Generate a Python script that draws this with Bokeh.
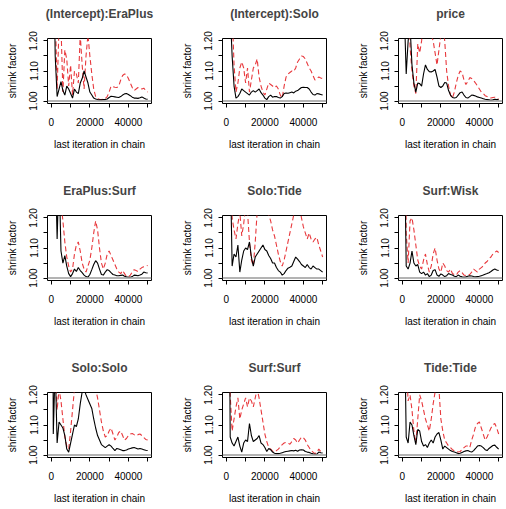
from bokeh.plotting import figure
from bokeh.layouts import column, row
from bokeh.models import Range1d, FixedTicker, Span
from bokeh.embed import file_html
from bokeh.resources import INLINE

# Last iteration of each bin (50 bins of 999 iterations, then the chain end)
last_iter = list(range(51, 50000, 999)) + [50000]

titles = [
    "(Intercept):EraPlus", "(Intercept):Solo", "price",
    "EraPlus:Surf", "Solo:Tide", "Surf:Wisk",
    "Solo:Solo", "Surf:Surf", "Tide:Tide",
]

# Median shrink factor per parameter
median_intercept_eraplus = [3.0, 1.6, 1.15, 1.015, 1.04, 1.065, 1.035, 1.02, 1.05, 1.04, 1.025, 1.01, 1.04, 1.03, 1.025, 1.06, 1.075, 1.10, 1.08, 1.06, 1.03, 1.02, 1.01, 1.007, 1.005, 1.004, 1.004, 1.005, 1.005, 1.007, 1.012, 1.016, 1.015, 1.014, 1.013, 1.012, 1.015, 1.02, 1.024, 1.025, 1.022, 1.018, 1.013, 1.01, 1.01, 1.009, 1.011, 1.014, 1.01, 1.007, 1.006]
median_intercept_solo = [3.0, 1.5, 1.3, 1.15, 1.05, 1.01, 1.015, 1.025, 1.04, 1.035, 1.03, 1.025, 1.02, 1.03, 1.035, 1.03, 1.035, 1.04, 1.028, 1.02, 1.01, 1.005, 1.015, 1.02, 1.013, 1.015, 1.015, 1.012, 1.01, 1.015, 1.025, 1.027, 1.026, 1.028, 1.03, 1.027, 1.033, 1.035, 1.04, 1.045, 1.046, 1.045, 1.045, 1.04, 1.03, 1.022, 1.02, 1.025, 1.024, 1.022, 1.02]
median_price = [4.0, 1.3, 1.09, 1.2, 1.25, 1.12, 1.06, 1.03, 1.06, 1.058, 1.05, 1.09, 1.12, 1.105, 1.098, 1.097, 1.1, 1.105, 1.08, 1.05, 1.045, 1.05, 1.062, 1.06, 1.035, 1.02, 1.012, 1.01, 1.012, 1.02, 1.028, 1.03, 1.02, 1.012, 1.01, 1.015, 1.02, 1.019, 1.017, 1.014, 1.012, 1.01, 1.008, 1.006, 1.005, 1.004, 1.003, 1.004, 1.006, 1.005, 1.005]
median_eraplus_surf = [5.0, 2.0, 1.4, 1.13, 1.35, 1.09, 1.05, 1.075, 1.04, 1.015, 1.005, 1.015, 1.03, 1.022, 1.035, 1.025, 1.018, 1.01, 1.005, 1.003, 1.012, 1.028, 1.045, 1.058, 1.05, 1.03, 1.012, 1.01, 1.02, 1.028, 1.025, 1.018, 1.012, 1.01, 1.008, 1.008, 1.009, 1.01, 1.006, 1.004, 1.003, 1.003, 1.005, 1.01, 1.009, 1.008, 1.01, 1.013, 1.02, 1.018, 1.017]
median_solo_tide = [5.0, 2.0, 1.4, 1.04, 1.08, 1.07, 1.11, 1.02, 1.06, 1.09, 1.10, 1.095, 1.12, 1.07, 1.04, 1.07, 1.08, 1.09, 1.10, 1.11, 1.095, 1.09, 1.075, 1.065, 1.05, 1.05, 1.035, 1.025, 1.02, 1.01, 1.015, 1.025, 1.033, 1.036, 1.04, 1.055, 1.07, 1.063, 1.055, 1.045, 1.04, 1.035, 1.045, 1.035, 1.03, 1.04, 1.035, 1.03, 1.03, 1.025, 1.02]
median_surf_wisk = [5.0, 1.5, 1.04, 1.03, 1.05, 1.09, 1.05, 1.04, 1.045, 1.02, 1.015, 1.02, 1.01, 1.015, 1.005, 1.01, 1.025, 1.028, 1.01, 1.006, 1.014, 1.01, 1.005, 1.008, 1.015, 1.012, 1.01, 1.006, 1.005, 1.01, 1.006, 1.004, 1.003, 1.004, 1.006, 1.008, 1.007, 1.005, 1.004, 1.005, 1.006, 1.008, 1.01, 1.013, 1.015, 1.018, 1.022, 1.027, 1.03, 1.027, 1.025]
median_solo_solo = [3.0, 1.07, 1.3, 1.04, 1.11, 1.10, 1.09, 1.065, 1.02, 1.01, 1.04, 1.07, 1.10, 1.095, 1.12, 1.17, 1.21, 1.22, 1.2, 1.185, 1.17, 1.155, 1.12, 1.09, 1.065, 1.05, 1.035, 1.03, 1.025, 1.03, 1.035, 1.03, 1.022, 1.015, 1.022, 1.02, 1.018, 1.015, 1.015, 1.017, 1.02, 1.022, 1.024, 1.025, 1.023, 1.02, 1.022, 1.02, 1.018, 1.016, 1.015]
median_surf_surf = [5.0, 2.0, 1.06, 1.04, 1.03, 1.045, 1.06, 1.03, 1.01, 1.04, 1.05, 1.045, 1.105, 1.065, 1.045, 1.05, 1.055, 1.065, 1.04, 1.035, 1.025, 1.012, 1.022, 1.018, 1.01, 1.006, 1.005, 1.005, 1.006, 1.008, 1.01, 1.012, 1.013, 1.014, 1.015, 1.014, 1.016, 1.013, 1.017, 1.018, 1.017, 1.012, 1.01, 1.009, 1.006, 1.004, 1.003, 1.003, 1.01, 1.008, 1.007]
median_tide_tide = [4.0, 1.5, 1.06, 1.04, 1.11, 1.10, 1.065, 1.035, 1.085, 1.08, 1.045, 1.03, 1.035, 1.025, 1.04, 1.05, 1.04, 1.06, 1.07, 1.075, 1.05, 1.02, 1.03, 1.025, 1.02, 1.015, 1.012, 1.01, 1.008, 1.005, 1.006, 1.009, 1.012, 1.014, 1.015, 1.012, 1.01, 1.015, 1.022, 1.03, 1.032, 1.03, 1.025, 1.018, 1.015, 1.022, 1.027, 1.032, 1.033, 1.026, 1.02]

# 97.5% upper limit of the shrink factor per parameter
upper_intercept_eraplus = [5.0, 2.5, 1.3, 1.04, 1.25, 1.25, 1.03, 1.17, 1.14, 1.05, 1.12, 1.02, 1.1, 1.09, 1.06, 1.22, 1.12, 1.04, 1.15, 1.22, 1.15, 1.09, 1.04, 1.015, 1.008, 1.006, 1.005, 1.006, 1.008, 1.015, 1.03, 1.05, 1.048, 1.046, 1.045, 1.05, 1.07, 1.085, 1.09, 1.088, 1.075, 1.06, 1.045, 1.035, 1.04, 1.045, 1.044, 1.04, 1.043, 1.035, 1.03]
upper_intercept_solo = [6.0, 3.0, 1.6, 1.3, 1.12, 1.03, 1.06, 1.11, 1.13, 1.11, 1.06, 1.11, 1.03, 1.07, 1.11, 1.12, 1.14, 1.08, 1.05, 1.03, 1.02, 1.04, 1.06, 1.055, 1.05, 1.045, 1.05, 1.04, 1.02, 1.01, 1.05, 1.08, 1.09, 1.095, 1.1, 1.098, 1.11, 1.13, 1.14, 1.15, 1.148, 1.14, 1.125, 1.11, 1.1, 1.085, 1.07, 1.075, 1.08, 1.077, 1.075]
upper_price = [8.0, 3.0, 1.8, 1.4, 1.18, 1.1, 1.05, 1.025, 1.19, 1.16, 1.2, 1.3, 1.35, 1.3, 1.25, 1.22, 1.2, 1.16, 1.12, 1.17, 1.22, 1.25, 1.2, 1.1, 1.05, 1.02, 1.01, 1.03, 1.06, 1.085, 1.1, 1.095, 1.07, 1.055, 1.065, 1.078, 1.075, 1.068, 1.06, 1.05, 1.04, 1.03, 1.025, 1.018, 1.015, 1.012, 1.01, 1.012, 1.013, 1.008, 1.007]
upper_eraplus_surf = [9.0, 4.0, 2.0, 1.6, 1.4, 1.25, 1.19, 1.12, 1.07, 1.04, 1.02, 1.03, 1.08, 1.11, 1.12, 1.09, 1.05, 1.03, 1.02, 1.04, 1.06, 1.1, 1.15, 1.19, 1.16, 1.1, 1.05, 1.03, 1.05, 1.08, 1.09, 1.075, 1.06, 1.045, 1.03, 1.02, 1.015, 1.025, 1.015, 1.005, 1.004, 1.01, 1.02, 1.028, 1.025, 1.022, 1.03, 1.035, 1.038, 1.04, 1.042]
upper_solo_tide = [9.0, 4.0, 1.8, 1.2, 1.16, 1.13, 1.18, 1.22, 1.14, 1.18, 1.24, 1.22, 1.12, 1.06, 1.04, 1.12, 1.22, 1.3, 1.33, 1.3, 1.27, 1.24, 1.21, 1.19, 1.16, 1.14, 1.11, 1.08, 1.055, 1.04, 1.06, 1.09, 1.12, 1.15, 1.18, 1.21, 1.24, 1.25, 1.24, 1.2, 1.17, 1.15, 1.13, 1.15, 1.13, 1.12, 1.13, 1.135, 1.11, 1.09, 1.07]
upper_surf_wisk = [9.0, 2.0, 1.15, 1.05, 1.19, 1.2, 1.16, 1.11, 1.06, 1.04, 1.03, 1.06, 1.08, 1.045, 1.02, 1.04, 1.08, 1.1, 1.06, 1.03, 1.02, 1.05, 1.04, 1.025, 1.02, 1.03, 1.015, 1.012, 1.01, 1.02, 1.025, 1.018, 1.01, 1.008, 1.008, 1.012, 1.02, 1.03, 1.025, 1.02, 1.03, 1.035, 1.04, 1.05, 1.055, 1.065, 1.07, 1.08, 1.085, 1.09, 1.085]
upper_solo_solo = [8.0, 2.0, 1.3, 1.15, 1.22, 1.18, 1.12, 1.06, 1.03, 1.02, 1.08, 1.15, 1.22, 1.3, 1.35, 1.4, 1.45, 1.45, 1.42, 1.38, 1.33, 1.28, 1.25, 1.22, 1.19, 1.15, 1.11, 1.08, 1.06, 1.065, 1.08, 1.09, 1.07, 1.05, 1.06, 1.075, 1.08, 1.065, 1.05, 1.055, 1.065, 1.07, 1.072, 1.068, 1.065, 1.068, 1.07, 1.065, 1.058, 1.052, 1.05]
upper_surf_surf = [9.0, 2.5, 1.2, 1.08, 1.12, 1.16, 1.19, 1.12, 1.15, 1.17, 1.19, 1.16, 1.19, 1.18, 1.16, 1.19, 1.22, 1.19, 1.15, 1.11, 1.07, 1.045, 1.025, 1.02, 1.013, 1.01, 1.015, 1.02, 1.028, 1.035, 1.04, 1.042, 1.04, 1.036, 1.045, 1.055, 1.05, 1.04, 1.05, 1.06, 1.058, 1.05, 1.035, 1.025, 1.015, 1.01, 1.005, 1.008, 1.02, 1.012, 1.008]
upper_tide_tide = [9.0, 2.5, 1.3, 1.18, 1.2, 1.15, 1.08, 1.04, 1.12, 1.2, 1.18, 1.15, 1.12, 1.1, 1.08, 1.12, 1.17, 1.21, 1.25, 1.22, 1.12, 1.08, 1.05, 1.04, 1.03, 1.025, 1.018, 1.014, 1.012, 1.01, 1.012, 1.018, 1.025, 1.03, 1.03, 1.025, 1.05, 1.07, 1.095, 1.105, 1.11, 1.09, 1.07, 1.05, 1.06, 1.075, 1.09, 1.1, 1.105, 1.09, 1.07]

medians = [
    median_intercept_eraplus, median_intercept_solo, median_price,
    median_eraplus_surf, median_solo_tide, median_surf_wisk,
    median_solo_solo, median_surf_surf, median_tide_tide,
]
uppers = [
    upper_intercept_eraplus, upper_intercept_solo, upper_price,
    upper_eraplus_surf, upper_solo_tide, upper_surf_wisk,
    upper_solo_solo, upper_surf_surf, upper_tide_tide,
]

x_ticks = [0, 10000, 20000, 30000, 40000, 50000]
x_tick_labels = ["0", "", "20000", "", "40000", ""]
y_ticks = [1.0, 1.05, 1.1, 1.15, 1.2]
y_tick_labels = ["1.00", "", "1.10", "", "1.20"]

FONT = "Liberation Sans"
col_widths = [175, 175, 156]
row_heights = [177, 177, 155]
left_borders = [47, 47, 48]
FRAME_W, FRAME_H, TOP = 104, 66, 37

# x limits padded 4% beyond the data, y limits padded 4% beyond 1.0-1.2
x_lo, x_hi = min(last_iter), max(last_iter)
x_pad = 0.04 * (x_hi - x_lo)
y_lo, y_hi = 1.0, 1.2
y_pad = 0.04 * (y_hi - y_lo)


def panel(i):
    r, c = divmod(i, 3)
    w, h = col_widths[c], row_heights[r]
    lb = left_borders[c]
    p = figure(
        width=w, height=h, output_backend="svg", toolbar_location=None,
        x_range=Range1d(x_lo - x_pad, x_hi + x_pad),
        y_range=Range1d(y_lo - y_pad, y_hi + y_pad),
        min_border_left=lb, min_border_right=w - lb - FRAME_W,
        min_border_top=TOP, min_border_bottom=h - TOP - FRAME_H,
        # trailing blank line lifts the title well clear of the plot box
        title=titles[i] + "\n ",
    )
    p.title.text_font = FONT
    p.title.text_font_size = "12px"
    p.title.text_font_style = "bold"
    p.title.align = "center"
    p.title.standoff = 8
    p.title.text_line_height = 1.0
    p.grid.visible = False
    p.background_fill_color = "white"
    p.border_fill_color = "white"
    p.outline_line_color = "black"
    p.outline_line_width = 1

    for ax, ticks, labels in ((p.xaxis[0], x_ticks, x_tick_labels),
                              (p.yaxis[0], y_ticks, y_tick_labels)):
        ax.ticker = FixedTicker(ticks=ticks)
        ax.major_label_overrides = dict(zip(ticks, labels))
        ax.minor_tick_line_color = None
        ax.major_tick_in = 0
        ax.major_tick_out = 4
        ax.major_tick_line_color = "black"
        ax.axis_line_color = "black"
        ax.major_label_text_font = FONT
        ax.major_label_text_font_size = "10px"
        ax.major_label_text_color = "black"
        ax.axis_label_text_font = FONT
        ax.axis_label_text_font_size = "10px"
        ax.axis_label_text_font_style = "normal"
        ax.axis_label_text_color = "black"
    p.xaxis.bounds = (0, 50000)
    p.yaxis.bounds = (1.0, 1.2)
    p.xaxis.axis_label = "last iteration in chain"
    p.yaxis.axis_label = "shrink factor"
    p.xaxis.major_label_standoff = 10
    p.xaxis.axis_label_standoff = 10
    p.yaxis.major_label_orientation = "vertical"
    p.yaxis.major_label_standoff = 6
    p.yaxis.axis_label_standoff = 9

    p.add_layout(Span(location=1.0, dimension="width",
                      line_color="#9a9a9a", line_width=1.5))
    p.line(last_iter, uppers[i], line_color="#e8393d", line_width=1.1,
           line_dash="5 3")
    p.line(last_iter, medians[i], line_color="black", line_width=1.1)
    return p


figs = [panel(i) for i in range(9)]
layout = column(
    row(figs[0], figs[1], figs[2]),
    row(figs[3], figs[4], figs[5]),
    row(figs[6], figs[7], figs[8]),
)

open("out.html", "w").write(file_html(layout, INLINE))
